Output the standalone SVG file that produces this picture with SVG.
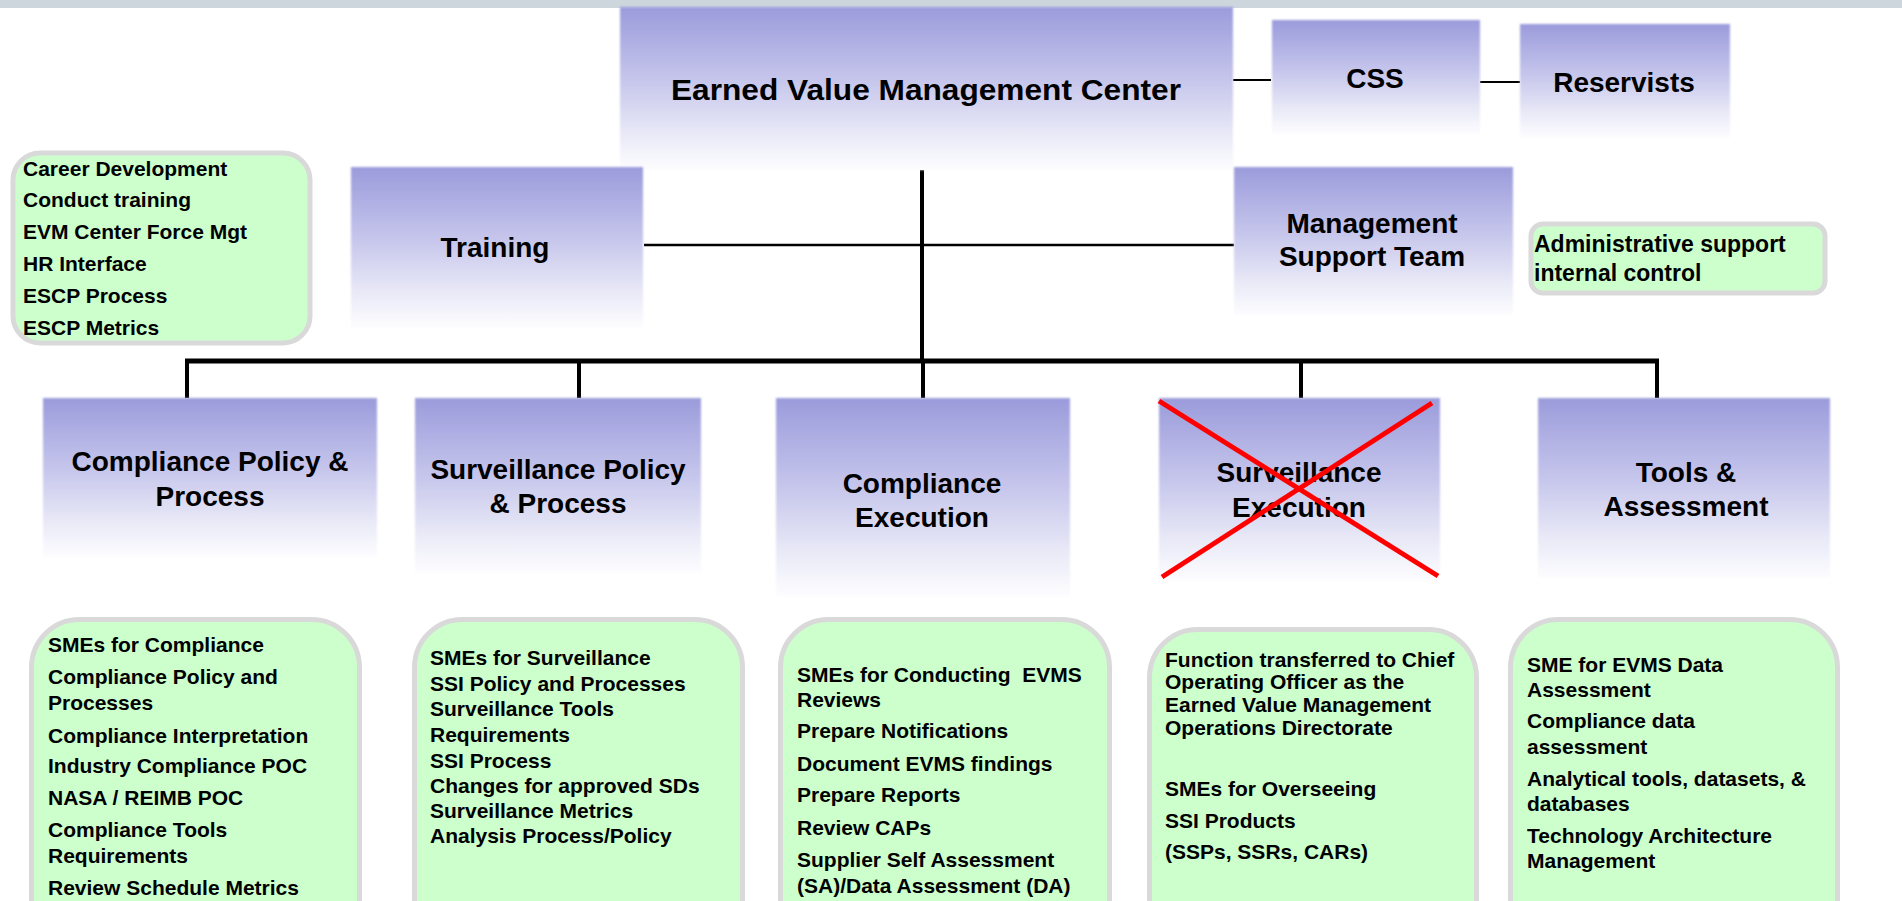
<svg xmlns="http://www.w3.org/2000/svg" width="1902" height="901" viewBox="0 0 1902 901">
<defs>
<linearGradient id="lav" x1="0" y1="0" x2="0" y2="1">
<stop offset="0" stop-color="#9b9bdc"/>
<stop offset="0.45" stop-color="#c6c6ec"/>
<stop offset="0.8" stop-color="#ebebf8"/>
<stop offset="1" stop-color="#fdfdff"/>
</linearGradient>
<filter id="soft" x="-5%" y="-5%" width="110%" height="110%"><feGaussianBlur stdDeviation="1.3"/></filter>
<style>
.box{fill:url(#lav);filter:url(#soft)}
.g{fill:#ccffcc;stroke:#d9d9d9;stroke-width:5}
.t{font-family:"Liberation Sans",Arial,sans-serif;font-weight:bold;fill:#000}
.h{font-size:28px;text-anchor:middle}
.l{font-size:21px}
.c{stroke:#000;fill:none}
.x{stroke:#ff0000;stroke-width:5}
</style>
</defs>
<rect x="0" y="0" width="1902" height="901" fill="#ffffff"/>
<rect x="0" y="0" width="1902" height="8" fill="#cdd5dd"/>

<g id="connectors">
<line class="c" x1="1233" y1="80" x2="1271" y2="80" stroke-width="2"/>
<line class="c" x1="1480" y1="82" x2="1520" y2="82" stroke-width="2"/>
<line class="c" x1="644" y1="245" x2="1234" y2="245" stroke-width="2.5"/>
<line class="c" x1="922" y1="170" x2="922" y2="362" stroke-width="4"/>
<line class="c" x1="185" y1="361" x2="1659" y2="361" stroke-width="5"/>
<line class="c" x1="187" y1="361" x2="187" y2="398" stroke-width="4"/>
<line class="c" x1="579" y1="361" x2="579" y2="398" stroke-width="4"/>
<line class="c" x1="923" y1="361" x2="923" y2="398" stroke-width="4"/>
<line class="c" x1="1301" y1="361" x2="1301" y2="398" stroke-width="4"/>
<line class="c" x1="1657" y1="361" x2="1657" y2="398" stroke-width="4"/>
</g>

<g id="evm-center">
<rect class="box" x="620" y="7" width="613" height="163"/>
<text class="t" x="926" y="100" font-size="29" text-anchor="middle" textLength="510" lengthAdjust="spacingAndGlyphs">Earned Value Management Center</text>
</g>
<g id="css">
<rect class="box" x="1272" y="20" width="208" height="114"/>
<text class="t h" x="1375" y="88" font-size="28.5">CSS</text>
</g>
<g id="reservists">
<rect class="box" x="1520" y="24" width="210" height="114"/>
<text class="t h" x="1624" y="92" font-size="28.5">Reservists</text>
</g>
<g id="training">
<rect class="box" x="351" y="167" width="292" height="161"/>
<text class="t h" x="495" y="257" font-size="29">Training</text>
</g>
<g id="mst">
<rect class="box" x="1234" y="167" width="279" height="148"/>
<text class="t h" x="1372" y="233" font-size="26.5">Management</text>
<text class="t h" x="1372" y="266" font-size="26.5">Support Team</text>
</g>
<g id="training-list">
<rect class="g" x="13" y="153" width="297" height="190" rx="27" stroke-width="4"/>
<text class="t l" x="23" y="176">Career Development</text>
<text class="t l" x="23" y="207">Conduct training</text>
<text class="t l" x="23" y="239">EVM Center Force Mgt</text>
<text class="t l" x="23" y="271">HR Interface</text>
<text class="t l" x="23" y="303">ESCP Process</text>
<text class="t l" x="23" y="335">ESCP Metrics</text>
</g>
<g id="admin">
<rect class="g" x="1531" y="224" width="294" height="69" rx="12" stroke-width="4"/>
<text class="t" x="1534" y="252" font-size="23">Administrative support</text>
<text class="t" x="1534" y="281" font-size="23">internal control</text>
</g>

<g id="cpp">
<rect class="box" x="43" y="398" width="334" height="159"/>
<text class="t h" x="210" y="471">Compliance Policy &amp;</text>
<text class="t h" x="210" y="506">Process</text>
</g>
<g id="spp">
<rect class="box" x="415" y="398" width="286" height="174"/>
<text class="t h" x="558" y="479">Surveillance Policy</text>
<text class="t h" x="558" y="513">&amp; Process</text>
</g>
<g id="ce">
<rect class="box" x="776" y="398" width="294" height="198"/>
<text class="t h" x="922" y="493">Compliance</text>
<text class="t h" x="922" y="527">Execution</text>
</g>
<g id="se">
<rect class="box" x="1159" y="398" width="281" height="182"/>
<text class="t h" x="1299" y="482">Surveillance</text>
<text class="t h" x="1299" y="517">Execution</text>
<line class="x" x1="1159" y1="401" x2="1438" y2="576"/>
<line class="x" x1="1432" y1="403" x2="1162" y2="577"/>
</g>
<g id="ta">
<rect class="box" x="1538" y="398" width="292" height="180"/>
<text class="t h" x="1686" y="482">Tools &amp;</text>
<text class="t h" x="1686" y="516">Assessment</text>
</g>

<g id="cpp-list">
<rect class="g" x="31.5" y="619.5" width="328" height="340" rx="48"/>
<text class="t l" x="48" y="652">SMEs for Compliance</text>
<text class="t l" x="48" y="684">Compliance Policy and</text>
<text class="t l" x="48" y="710">Processes</text>
<text class="t l" x="48" y="743">Compliance Interpretation</text>
<text class="t l" x="48" y="773">Industry Compliance POC</text>
<text class="t l" x="48" y="805">NASA / REIMB POC</text>
<text class="t l" x="48" y="837">Compliance Tools</text>
<text class="t l" x="48" y="863">Requirements</text>
<text class="t l" x="48" y="895">Review Schedule Metrics</text>
</g>
<g id="spp-list">
<rect class="g" x="414.5" y="619.5" width="328" height="340" rx="48"/>
<text class="t l" x="430" y="665">SMEs for Surveillance</text>
<text class="t l" x="430" y="691">SSI Policy and Processes</text>
<text class="t l" x="430" y="716">Surveillance Tools</text>
<text class="t l" x="430" y="742">Requirements</text>
<text class="t l" x="430" y="768">SSI Process</text>
<text class="t l" x="430" y="793">Changes for approved SDs</text>
<text class="t l" x="430" y="818">Surveillance Metrics</text>
<text class="t l" x="430" y="843">Analysis Process/Policy</text>
</g>
<g id="ce-list">
<rect class="g" x="780.5" y="619.5" width="329" height="340" rx="48"/>
<text class="t l" x="797" y="682" xml:space="preserve">SMEs for Conducting  EVMS</text>
<text class="t l" x="797" y="707">Reviews</text>
<text class="t l" x="797" y="738">Prepare Notifications</text>
<text class="t l" x="797" y="771">Document EVMS findings</text>
<text class="t l" x="797" y="802">Prepare Reports</text>
<text class="t l" x="797" y="835">Review CAPs</text>
<text class="t l" x="797" y="867">Supplier Self Assessment</text>
<text class="t l" x="797" y="893">(SA)/Data Assessment (DA)</text>
</g>
<g id="se-list">
<rect class="g" x="1149.5" y="629.5" width="327" height="340" rx="48"/>
<text class="t l" x="1165" y="667">Function transferred to Chief</text>
<text class="t l" x="1165" y="689">Operating Officer as the</text>
<text class="t l" x="1165" y="712">Earned Value Management</text>
<text class="t l" x="1165" y="735">Operations Directorate</text>
<text class="t l" x="1165" y="796">SMEs for Overseeing</text>
<text class="t l" x="1165" y="828">SSI Products</text>
<text class="t l" x="1165" y="859">(SSPs, SSRs, CARs)</text>
</g>
<g id="ta-list">
<rect class="g" x="1510.5" y="619.5" width="327" height="340" rx="48"/>
<text class="t l" x="1527" y="672">SME for EVMS Data</text>
<text class="t l" x="1527" y="697">Assessment</text>
<text class="t l" x="1527" y="728">Compliance data</text>
<text class="t l" x="1527" y="754">assessment</text>
<text class="t l" x="1527" y="786">Analytical tools, datasets, &amp;</text>
<text class="t l" x="1527" y="811">databases</text>
<text class="t l" x="1527" y="843">Technology Architecture</text>
<text class="t l" x="1527" y="868">Management</text>
</g>
</svg>
